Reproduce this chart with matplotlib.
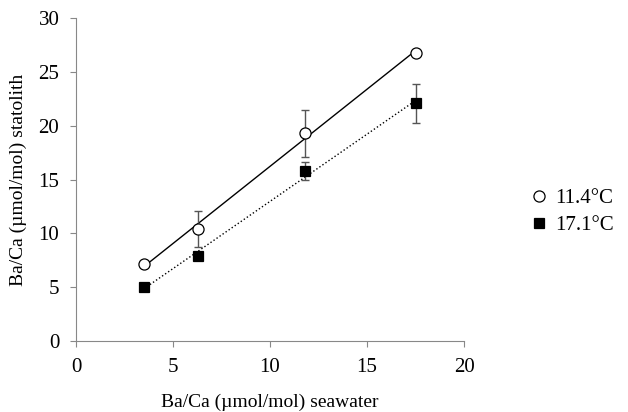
import numpy as np
import matplotlib
matplotlib.use("Agg")
import matplotlib.pyplot as plt

plt.rcParams['font.family'] = ['Liberation Serif', 'DejaVu Serif']

seawater = [3.5, 6.3, 11.8, 17.5]
statolith_114 = [7.15, 10.4, 19.3, 26.8]
err_114 = [0.3, 1.7, 2.2, 0.2]
statolith_171 = [5.0, 7.9, 15.8, 22.1]
err_171 = [0.2, 0.4, 0.8, 1.8]
labels = ['11.4°C', '17.1°C']
xticks = [0, 5, 10, 15, 20]
yticks = [0, 5, 10, 15, 20, 25, 30]

fig = plt.figure(figsize=(6.28, 4.12), dpi=100)
ax = fig.add_axes([0.121, 0.172, 0.618, 0.784])

x = np.array(seawater)
for y, e, mk, fc, ls, lab in [(statolith_114, err_114, 'o', 'white', '-', labels[0]),
                              (statolith_171, err_171, 's', 'black', ':', labels[1])]:
    y = np.array(y)
    p = np.polyfit(x, y, 1)
    xx = np.array([x.min(), x.max()])
    ax.plot(xx, np.polyval(p, xx), color='black', ls=ls, lw=1.0, zorder=2)
    ax.errorbar(x, y, yerr=e, fmt='none', ecolor='#555555', elinewidth=1.0, capsize=3, capthick=1.0, zorder=3)
    ax.plot(x, y, marker=mk, ls='none', mfc=fc, mec='black', ms=8 if mk == 'o' else 7.5, mew=0.9, zorder=4, label=lab)

ax.set_xlim(0, 20)
ax.set_ylim(0, 30)
ax.set_xticks(xticks)
ax.set_yticks(yticks)
for s in ['top', 'right']:
    ax.spines[s].set_visible(False)
for s in ['left', 'bottom']:
    ax.spines[s].set_color('#888888')
    ax.spines[s].set_linewidth(0.8)
ax.tick_params(direction='out', length=4, color='#888888', labelsize=15, pad=8)
ax.set_xlabel('Ba/Ca (µmol/mol) seawater', fontsize=14, labelpad=12)
ax.set_ylabel('Ba/Ca (µmol/mol) statolith', fontsize=14, labelpad=8)

ax.legend(loc='center left', bbox_to_anchor=(522 / 628, 1 - 212 / 412),
          bbox_transform=fig.transFigure, frameon=False, fontsize=15,
          handlelength=0.6, handletextpad=0.5, labelspacing=0.35, borderpad=0)

fig.savefig('out.png', dpi=100)
